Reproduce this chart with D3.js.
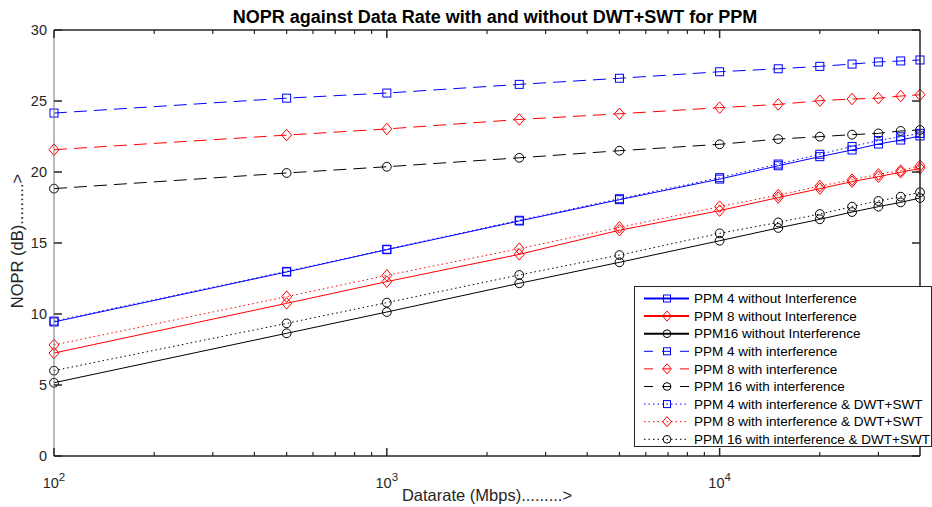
<!DOCTYPE html>
<html>
<head>
<meta charset="utf-8">
<script src="https://cdn.jsdelivr.net/npm/d3@7"></script>
<style>
  body { margin: 0; background: #fff; }
  text { font-family: "Liberation Sans", Arial, sans-serif; }
</style>
</head>
<body>
<div id="chart"></div>
<script>
// data rates (Mbps)
var rates = [100, 500, 1000, 2500, 5000, 10000, 15000, 20000, 25000, 30000, 35000, 40000];

// NOPR (dB) per series
var ppm4NoInt   = [9.44, 12.96, 14.53, 16.55, 18.05, 19.5, 20.44, 21.08, 21.55, 21.97, 22.25, 22.54];
var ppm8NoInt   = [7.25, 10.75, 12.28, 14.2, 15.9, 17.28, 18.2, 18.83, 19.32, 19.67, 19.98, 20.26];
var ppm16NoInt  = [5.16, 8.64, 10.14, 12.16, 13.64, 15.16, 16.06, 16.67, 17.18, 17.56, 17.86, 18.17];
var ppm4Int     = [24.15, 25.2, 25.56, 26.17, 26.6, 27.06, 27.27, 27.44, 27.6, 27.75, 27.82, 27.89];
var ppm8Int     = [21.57, 22.6, 23.03, 23.7, 24.1, 24.53, 24.76, 25.02, 25.14, 25.2, 25.35, 25.44];
var ppm16Int    = [18.83, 19.93, 20.37, 21.0, 21.5, 21.95, 22.32, 22.49, 22.63, 22.72, 22.89, 22.96];
var ppm4Dwt     = [9.5, 13.0, 14.56, 16.6, 18.12, 19.6, 20.56, 21.25, 21.8, 22.22, 22.48, 22.72];
var ppm8Dwt     = [7.82, 11.22, 12.72, 14.6, 16.1, 17.56, 18.38, 19.01, 19.46, 19.83, 20.1, 20.44];
var ppm16Dwt    = [6.01, 9.34, 10.8, 12.75, 14.15, 15.68, 16.45, 17.04, 17.56, 17.96, 18.26, 18.57];

var seriesNames = [
  "PPM 4 without Interference", "PPM 8 without Interference", "PPM16 without Interference",
  "PPM 4 with interference", "PPM 8 with interference", "PPM 16 with interference",
  "PPM 4 with interference & DWT+SWT", "PPM 8 with interference & DWT+SWT", "PPM 16 with interference & DWT+SWT"
];
var seriesValues = [ppm4NoInt, ppm8NoInt, ppm16NoInt, ppm4Int, ppm8Int, ppm16Int, ppm4Dwt, ppm8Dwt, ppm16Dwt];
var seriesColors = ["#0000ff", "#ff0000", "#000000", "#0000ff", "#ff0000", "#000000", "#0000ff", "#ff0000", "#000000"];
var seriesMarkers = ["square", "diamond", "circle", "square", "diamond", "circle", "square", "diamond", "circle"];
var seriesStyles = ["solid", "solid", "solid", "dash", "dash", "dash", "dot", "dot", "dot"];

var yTicks = [0, 5, 10, 15, 20, 25, 30];
var xMajor = [100, 1000, 10000];
var xMinor = [200, 300, 400, 500, 600, 700, 800, 900, 2000, 3000, 4000, 5000, 6000, 7000, 8000, 9000, 20000, 30000];

var width = 932, height = 507;
var margin = {top: 30, right: 12, bottom: 51, left: 54};
var w = width - margin.left - margin.right;
var h = height - margin.top - margin.bottom;

var svg = d3.select("#chart").append("svg")
  .attr("width", width)
  .attr("height", height);

var g = svg.append("g").attr("transform", "translate(" + margin.left + "," + margin.top + ")");

var x = d3.scaleLog().domain([100, 40000]).range([0, w]);
var y = d3.scaleLinear().domain([0, 30]).range([h, 0]);

var dashFor = {solid: null, dash: "13,7", dot: "1.5,3"};

// lines
var line = d3.line()
  .x(function(d) { return x(d[0]); })
  .y(function(d) { return y(d[1]); });

function drawMarker(sel, type, color, size) {
  if (type === "square") {
    sel.append("rect")
      .attr("x", -size / 2).attr("y", -size / 2)
      .attr("width", size).attr("height", size)
      .attr("fill", "none").attr("stroke", color).attr("stroke-width", 1);
  } else if (type === "diamond") {
    var a = size * 0.62, b = size * 0.72;
    sel.append("path")
      .attr("d", "M0," + (-b) + "L" + a + ",0L0," + b + "L" + (-a) + ",0Z")
      .attr("fill", "none").attr("stroke", color).attr("stroke-width", 1);
  } else {
    sel.append("circle")
      .attr("r", size * 0.55)
      .attr("fill", "none").attr("stroke", color).attr("stroke-width", 1);
  }
}

seriesValues.forEach(function(vals, i) {
  var pts = rates.map(function(r, j) { return [r, vals[j]]; });
  g.append("path")
    .datum(pts)
    .attr("d", line)
    .attr("fill", "none")
    .attr("stroke", seriesColors[i])
    .attr("stroke-width", 1)
    .attr("stroke-dasharray", dashFor[seriesStyles[i]]);

  pts.forEach(function(p) {
    var m = g.append("g").attr("transform", "translate(" + x(p[0]) + "," + y(p[1]) + ")");
    drawMarker(m, seriesMarkers[i], seriesColors[i], 8);
  });
});

// axes box
var axisColor = "#262626";
g.append("line").attr("x1", 0).attr("x2", w).attr("y1", h).attr("y2", h).attr("stroke", axisColor).attr("stroke-width", 1.5);
g.append("line").attr("x1", 0).attr("x2", w).attr("y1", 0).attr("y2", 0).attr("stroke", axisColor).attr("stroke-width", 1.5);
g.append("line").attr("x1", w).attr("x2", w).attr("y1", 0).attr("y2", h).attr("stroke", axisColor).attr("stroke-width", 1.5);
g.append("line").attr("x1", 0).attr("x2", 0).attr("y1", 0).attr("y2", h).attr("stroke", "#777").attr("stroke-width", 1);

// y ticks (inward, both sides)
yTicks.forEach(function(t) {
  g.append("line").attr("x1", 0).attr("x2", 8).attr("y1", y(t)).attr("y2", y(t))
    .attr("stroke", axisColor).attr("stroke-width", 1.5);
  g.append("line").attr("x1", w - 8).attr("x2", w).attr("y1", y(t)).attr("y2", y(t))
    .attr("stroke", axisColor).attr("stroke-width", 1.5);
  g.append("text")
    .attr("x", -7).attr("y", y(t)).attr("dy", "0.35em")
    .attr("text-anchor", "end")
    .attr("font-size", 14.5).attr("fill", axisColor)
    .text(t);
});

// x ticks (inward, top and bottom)
xMinor.forEach(function(t) {
  g.append("line").attr("x1", x(t)).attr("x2", x(t)).attr("y1", h).attr("y2", h - 4)
    .attr("stroke", axisColor).attr("stroke-width", 1.2);
  g.append("line").attr("x1", x(t)).attr("x2", x(t)).attr("y1", 0).attr("y2", 4)
    .attr("stroke", axisColor).attr("stroke-width", 1.2);
});
xMajor.forEach(function(t) {
  g.append("line").attr("x1", x(t)).attr("x2", x(t)).attr("y1", h).attr("y2", h - 8)
    .attr("stroke", axisColor).attr("stroke-width", 1.5);
  g.append("line").attr("x1", x(t)).attr("x2", x(t)).attr("y1", 0).attr("y2", 8)
    .attr("stroke", axisColor).attr("stroke-width", 1.5);
  var lbl = g.append("text")
    .attr("x", x(t)).attr("y", h + 32)
    .attr("text-anchor", "middle")
    .attr("font-size", 14.5).attr("fill", axisColor);
  lbl.append("tspan").text("10");
  lbl.append("tspan").attr("dy", -7).attr("font-size", 11.5).text(Math.round(Math.log10(t)));
});

// title and labels
svg.append("text")
  .attr("x", 495).attr("y", 23)
  .attr("text-anchor", "middle")
  .attr("font-size", 18).attr("font-weight", "bold").attr("fill", "#000")
  .text("NOPR against Data Rate with and without DWT+SWT for PPM");

svg.append("text")
  .attr("x", 487).attr("y", 501)
  .attr("text-anchor", "middle")
  .attr("font-size", 16.5).attr("fill", axisColor)
  .text("Datarate (Mbps).........>");

svg.append("text")
  .attr("transform", "translate(23,241) rotate(-90)")
  .attr("text-anchor", "middle")
  .attr("font-size", 16.5).attr("fill", axisColor)
  .text("NOPR (dB).........>");

// legend
var lg = svg.append("g").attr("transform", "translate(634,286)");
lg.append("rect")
  .attr("x", 0.5).attr("y", 0.5).attr("width", 297).attr("height", 160)
  .attr("fill", "#fff").attr("stroke", "#262626").attr("stroke-width", 1);

seriesNames.forEach(function(name, i) {
  var ry = 12.5 + i * 17.6;
  var row = lg.append("g").attr("transform", "translate(0," + ry + ")");
  row.append("line")
    .attr("x1", 10).attr("x2", 55).attr("y1", 0).attr("y2", 0)
    .attr("stroke", seriesColors[i])
    .attr("stroke-width", seriesStyles[i] === "solid" ? 2 : 1)
    .attr("stroke-dasharray", seriesStyles[i] === "dash" ? "9,9" : dashFor[seriesStyles[i]]);
  var m = row.append("g").attr("transform", "translate(33,0)");
  drawMarker(m, seriesMarkers[i], seriesColors[i], 7);
  row.append("text")
    .attr("x", 60).attr("y", 0).attr("dy", "0.35em")
    .attr("font-size", 13.5).attr("fill", "#000")
    .text(name);
});
</script>
</body>
</html>
